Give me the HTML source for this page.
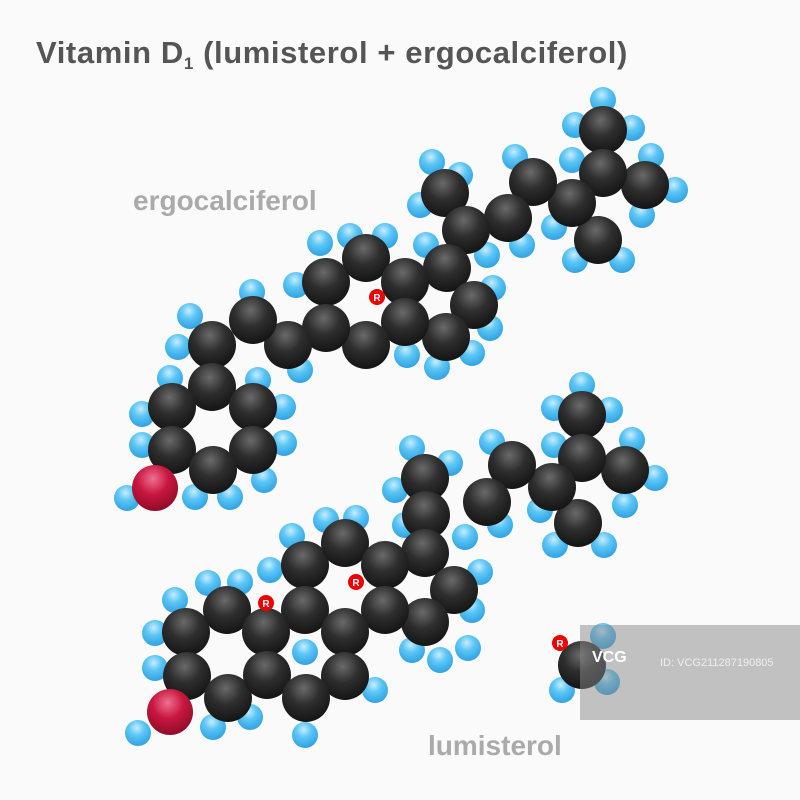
<!DOCTYPE html>
<html><head><meta charset="utf-8"><style>
body{margin:0;background:#fafafa;}
svg{display:block}
</style></head><body>
<svg width="800" height="800" viewBox="0 0 800 800" xmlns="http://www.w3.org/2000/svg">
<defs>
<radialGradient id="c" cx="0.45" cy="0.3" r="0.75"><stop offset="0" stop-color="#6a6a6a"/><stop offset="0.45" stop-color="#2e2e2e"/><stop offset="1" stop-color="#111"/></radialGradient>
<radialGradient id="h" cx="0.45" cy="0.3" r="0.75"><stop offset="0" stop-color="#c8ecff"/><stop offset="0.4" stop-color="#5cc6f5"/><stop offset="1" stop-color="#2a9ee0"/></radialGradient>
<radialGradient id="o" cx="0.45" cy="0.3" r="0.75"><stop offset="0" stop-color="#f07090"/><stop offset="0.45" stop-color="#c8173f"/><stop offset="1" stop-color="#8a0a25"/></radialGradient>
</defs>
<rect width="800" height="800" fill="#fafafa"/>
<text x="36" y="63" font-family="Liberation Sans, sans-serif" font-weight="bold" font-size="31" letter-spacing="0.6" fill="#555">Vitamin D<tspan font-size="17" dy="6">1</tspan><tspan dy="-6"> (lumisterol + ergocalciferol)</tspan></text>
<text x="133" y="210" font-family="Liberation Sans, sans-serif" font-weight="bold" font-size="28" fill="#aaa">ergocalciferol</text>
<text x="428" y="755" font-family="Liberation Sans, sans-serif" font-weight="bold" font-size="28" fill="#aaa">lumisterol</text>
<g fill="url(#h)">
<circle cx="603" cy="100" r="13"/><circle cx="575" cy="125" r="13"/><circle cx="632" cy="128" r="13"/><circle cx="572" cy="160" r="13"/><circle cx="651" cy="156" r="13"/><circle cx="675" cy="190" r="13"/><circle cx="642" cy="215" r="13"/><circle cx="554" cy="227" r="13"/><circle cx="575" cy="260" r="13"/><circle cx="622" cy="260" r="13"/><circle cx="515" cy="157" r="13"/><circle cx="522" cy="245" r="13"/><circle cx="487" cy="255" r="13"/><circle cx="432" cy="162" r="13"/><circle cx="460" cy="175" r="13"/><circle cx="420" cy="205" r="13"/><circle cx="426" cy="245" r="13"/><circle cx="350" cy="236" r="13"/><circle cx="385" cy="236" r="13"/><circle cx="320" cy="243" r="13"/><circle cx="296" cy="285" r="13"/><circle cx="252" cy="292" r="13"/><circle cx="300" cy="370" r="13"/><circle cx="190" cy="316" r="13"/><circle cx="178" cy="347" r="13"/><circle cx="170" cy="378" r="13"/><circle cx="258" cy="380" r="13"/><circle cx="283" cy="407" r="13"/><circle cx="284" cy="443" r="13"/><circle cx="264" cy="480" r="13"/><circle cx="230" cy="497" r="13"/><circle cx="195" cy="497" r="13"/><circle cx="142" cy="414" r="13"/><circle cx="142" cy="445" r="13"/><circle cx="127" cy="498" r="13"/><circle cx="493" cy="288" r="13"/><circle cx="490" cy="328" r="13"/><circle cx="472" cy="353" r="13"/><circle cx="437" cy="367" r="13"/><circle cx="407" cy="355" r="13"/>
<circle cx="582" cy="385" r="13"/><circle cx="554" cy="408" r="13"/><circle cx="610" cy="410" r="13"/><circle cx="554" cy="445" r="13"/><circle cx="632" cy="440" r="13"/><circle cx="655" cy="478" r="13"/><circle cx="625" cy="505" r="13"/><circle cx="540" cy="510" r="13"/><circle cx="555" cy="545" r="13"/><circle cx="604" cy="545" r="13"/><circle cx="492" cy="442" r="13"/><circle cx="500" cy="525" r="13"/><circle cx="465" cy="537" r="13"/><circle cx="412" cy="448" r="13"/><circle cx="450" cy="463" r="13"/><circle cx="395" cy="490" r="13"/><circle cx="405" cy="525" r="13"/><circle cx="326" cy="520" r="13"/><circle cx="356" cy="518" r="13"/><circle cx="292" cy="536" r="13"/><circle cx="270" cy="570" r="13"/><circle cx="175" cy="600" r="13"/><circle cx="208" cy="583" r="13"/><circle cx="240" cy="582" r="13"/><circle cx="155" cy="633" r="13"/><circle cx="155" cy="668" r="13"/><circle cx="138" cy="733" r="13"/><circle cx="213" cy="727" r="13"/><circle cx="250" cy="717" r="13"/><circle cx="305" cy="735" r="13"/><circle cx="375" cy="690" r="13"/><circle cx="412" cy="650" r="13"/><circle cx="440" cy="660" r="13"/><circle cx="468" cy="648" r="13"/><circle cx="472" cy="610" r="13"/><circle cx="480" cy="572" r="13"/><circle cx="305" cy="652" r="13"/>
<circle cx="603" cy="636" r="13"/><circle cx="607" cy="682" r="13"/><circle cx="562" cy="690" r="13"/>
</g>
<g fill="url(#c)">
<circle cx="603" cy="130" r="24"/><circle cx="645" cy="185" r="24"/><circle cx="598" cy="240" r="24"/><circle cx="603" cy="173" r="24"/><circle cx="572" cy="203" r="24"/><circle cx="533" cy="182" r="24"/><circle cx="508" cy="218" r="24"/><circle cx="445" cy="193" r="24"/><circle cx="466" cy="230" r="24"/>
<circle cx="447" cy="268" r="24"/><circle cx="474" cy="305" r="24"/><circle cx="446" cy="337" r="24"/>
<circle cx="326" cy="282" r="24"/><circle cx="366" cy="258" r="24"/><circle cx="405" cy="282" r="24"/><circle cx="405" cy="322" r="24"/><circle cx="366" cy="345" r="24"/><circle cx="326" cy="328" r="24"/>
<circle cx="288" cy="345" r="24"/><circle cx="253" cy="320" r="24"/><circle cx="212" cy="345" r="24"/>
<circle cx="212" cy="387" r="24"/><circle cx="253" cy="407" r="24"/><circle cx="172" cy="407" r="24"/><circle cx="172" cy="450" r="24"/><circle cx="253" cy="450" r="24"/><circle cx="213" cy="470" r="24"/>
<circle cx="582" cy="415" r="24"/><circle cx="625" cy="470" r="24"/><circle cx="578" cy="523" r="24"/><circle cx="582" cy="458" r="24"/><circle cx="552" cy="487" r="24"/><circle cx="512" cy="465" r="24"/><circle cx="487" cy="502" r="24"/><circle cx="425" cy="478" r="24"/><circle cx="426" cy="515" r="24"/>
<circle cx="425" cy="553" r="24"/><circle cx="454" cy="590" r="24"/><circle cx="425" cy="622" r="24"/>
<circle cx="305" cy="565" r="24"/><circle cx="345" cy="543" r="24"/><circle cx="385" cy="565" r="24"/><circle cx="385" cy="610" r="24"/>
<circle cx="186" cy="632" r="24"/><circle cx="227" cy="610" r="24"/><circle cx="187" cy="676" r="24"/><circle cx="228" cy="698" r="24"/>
<circle cx="305" cy="610" r="24"/><circle cx="266" cy="632" r="24"/><circle cx="345" cy="632" r="24"/><circle cx="267" cy="675" r="24"/><circle cx="345" cy="676" r="24"/><circle cx="306" cy="698" r="24"/>
<circle cx="582" cy="665" r="24"/>
</g>
<circle cx="155" cy="488" r="23" fill="url(#o)"/>
<circle cx="170" cy="712" r="23" fill="url(#o)"/>
<g font-family="Liberation Sans, sans-serif" font-weight="bold" font-size="10" fill="#fff" text-anchor="middle">
<circle cx="377" cy="297" r="8" fill="#e00"/><text x="377" y="301">R</text>
<circle cx="266" cy="603" r="8" fill="#e00"/><text x="266" y="607">R</text>
<circle cx="356" cy="582" r="8" fill="#e00"/><text x="356" y="586">R</text>
<circle cx="560" cy="643" r="8" fill="#e00"/><text x="560" y="647">R</text>
</g>
<rect x="580" y="625" width="220" height="95" fill="#888" opacity="0.5"/>
<text x="592" y="662" font-family="Liberation Sans, sans-serif" font-weight="bold" font-size="16" fill="#fff">VCG</text>
<text x="660" y="666" font-family="Liberation Sans, sans-serif" font-size="11" fill="#eee">ID: VCG211287190805</text>
</svg>
</body></html>
